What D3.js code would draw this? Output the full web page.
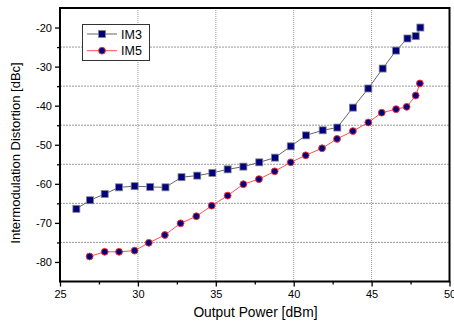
<!DOCTYPE html>
<html>
<head>
<meta charset="utf-8">
<script src="https://cdn.jsdelivr.net/npm/d3@7"></script>
<style>
  body { margin: 0; background: #fff; }
  svg text { font-family: Arial, "Liberation Sans", sans-serif; }
</style>
</head>
<body>
<div id="chart"></div>
<script>
// IM3 / IM5 vs output power
var im3Power = [26.05, 26.93, 27.87, 28.79, 29.79, 30.79, 31.77, 32.8, 33.81, 34.78,
                35.76, 36.77, 37.79, 38.8, 39.81, 40.79, 41.86, 42.8, 43.8, 44.79,
                45.71, 46.57, 47.3, 47.83, 48.13];
var im3Value = [-66.4, -64.2, -62.6, -60.9, -60.6, -60.8, -60.9, -58.3, -57.9, -57.2,
                -56.3, -55.6, -54.5, -53.3, -50.4, -47.6, -46.3, -45.6, -40.5, -35.6,
                -30.5, -25.9, -22.8, -22.2, -20.0];
var im5Power = [26.9, 27.87, 28.79, 29.79, 30.7, 31.73, 32.74, 33.75, 34.74, 35.76,
                36.77, 37.77, 38.78, 39.81, 40.77, 41.82, 42.78, 43.8, 44.79, 45.65,
                46.57, 47.25, 47.83, 48.1];
var im5Value = [-78.6, -77.4, -77.4, -77.1, -75.1, -73.1, -70.1, -68.3, -65.6, -63.0,
                -60.1, -58.8, -56.8, -54.5, -52.7, -50.9, -48.5, -46.5, -44.3, -41.8,
                -40.9, -40.3, -37.4, -34.3];
var xTicks = [25, 30, 35, 40, 45, 50];
var xMinor = [27.5, 32.5, 37.5, 42.5, 47.5];
var yTicks = [-80, -70, -60, -50, -40, -30, -20];
var yMinor = [-75, -65, -55, -45, -35, -25];
var vGrid = [30, 35, 40, 45];

var width = 454, height = 325;
var svg = d3.select("#chart").append("svg")
    .attr("width", width).attr("height", height);

var pLeft = 60, pRight = 449.5, pTop = 8, pBottom = 281.5;
var x = d3.scaleLinear().domain([25, 50]).range([pLeft, pRight]);
var y = d3.scaleLinear().domain([-85, -15]).range([pBottom, pTop]);

// grid (dotted)
svg.append("g").selectAll("line").data(vGrid).enter().append("line")
    .attr("x1", function(d) { return x(d); }).attr("x2", function(d) { return x(d); })
    .attr("y1", pTop).attr("y2", pBottom)
    .attr("stroke", "#999").attr("stroke-width", 1).attr("stroke-dasharray", "1,1");
svg.append("g").selectAll("line").data(yMinor).enter().append("line")
    .attr("y1", function(d) { return y(d); }).attr("y2", function(d) { return y(d); })
    .attr("x1", pLeft).attr("x2", pRight)
    .attr("stroke", "#999").attr("stroke-width", 1).attr("stroke-dasharray", "2,1");

// axes
svg.append("g").attr("transform", "translate(0," + pBottom + ")")
    .call(d3.axisBottom(x).tickValues(xTicks).tickSize(5).tickPadding(4).tickFormat(d3.format("d")));
svg.append("g").attr("transform", "translate(0," + pBottom + ")")
    .call(d3.axisBottom(x).tickValues(xMinor).tickSize(3).tickFormat(""));
svg.append("g").attr("transform", "translate(" + pLeft + ",0)")
    .call(d3.axisLeft(y).tickValues(yTicks).tickSize(5).tickPadding(3)
      .tickFormat(function(d) { return d; }));
svg.append("g").attr("transform", "translate(" + pLeft + ",0)")
    .call(d3.axisLeft(y).tickValues(yMinor).tickSize(3).tickFormat(""));
svg.selectAll(".domain").remove();
svg.selectAll(".tick line").attr("stroke", "#000").attr("stroke-width", 1.3);
svg.selectAll(".tick text").attr("font-size", 11).attr("fill", "#000")
    .style("font-family", "Arial, 'Liberation Sans', sans-serif");

// frame
svg.append("rect")
    .attr("x", pLeft).attr("y", pTop)
    .attr("width", pRight - pLeft).attr("height", pBottom - pTop)
    .attr("fill", "none").attr("stroke", "#000").attr("stroke-width", 2);

// series
var im3 = im3Power.map(function(p, i) { return [p, im3Value[i]]; });
var im5 = im5Power.map(function(p, i) { return [p, im5Value[i]]; });
var line = d3.line()
    .x(function(d) { return x(d[0]); })
    .y(function(d) { return y(d[1]); });

svg.append("path").datum(im3).attr("d", line)
    .attr("fill", "none").attr("stroke", "#666").attr("stroke-width", 1);
svg.append("path").datum(im5).attr("d", line)
    .attr("fill", "none").attr("stroke", "#ff5050").attr("stroke-width", 1);

svg.append("g").selectAll("rect").data(im3).enter().append("rect")
    .attr("x", function(d) { return x(d[0]) - 3.5; })
    .attr("y", function(d) { return y(d[1]) - 3.5; })
    .attr("width", 7).attr("height", 7)
    .attr("fill", "#000080").attr("stroke", "#888").attr("stroke-width", 0.8);
svg.append("g").selectAll("circle").data(im5).enter().append("circle")
    .attr("cx", function(d) { return x(d[0]); })
    .attr("cy", function(d) { return y(d[1]); })
    .attr("r", 3.4)
    .attr("fill", "#000080").attr("stroke", "#ff3030").attr("stroke-width", 1);

// legend
var leg = svg.append("g");
leg.append("rect").attr("x", 82.5).attr("y", 24.5).attr("width", 67).attr("height", 36)
    .attr("fill", "#fff").attr("stroke", "#333").attr("stroke-width", 1);
leg.append("line").attr("x1", 87).attr("x2", 117).attr("y1", 34).attr("y2", 34)
    .attr("stroke", "#666").attr("stroke-width", 1);
leg.append("rect").attr("x", 98.5).attr("y", 30.5).attr("width", 7).attr("height", 7)
    .attr("fill", "#000080").attr("stroke", "#888").attr("stroke-width", 0.8);
leg.append("text").attr("x", 121).attr("y", 38.5).attr("font-size", 12.5).text("IM3");
leg.append("line").attr("x1", 87).attr("x2", 117).attr("y1", 50.7).attr("y2", 50.7)
    .attr("stroke", "#ff5050").attr("stroke-width", 1);
leg.append("circle").attr("cx", 102).attr("cy", 50.7).attr("r", 3.4)
    .attr("fill", "#000080").attr("stroke", "#ff3030").attr("stroke-width", 1);
leg.append("text").attr("x", 121).attr("y", 55).attr("font-size", 12.5).text("IM5");

// axis titles
svg.append("text").attr("x", 255.5).attr("y", 317)
    .attr("text-anchor", "middle").attr("font-size", 13.8).text("Output Power [dBm]");
svg.append("text")
    .attr("transform", "translate(20,153) rotate(-90)")
    .attr("text-anchor", "middle").attr("font-size", 13).text("Intermodulation Distortion [dBc]");
</script>
</body>
</html>
